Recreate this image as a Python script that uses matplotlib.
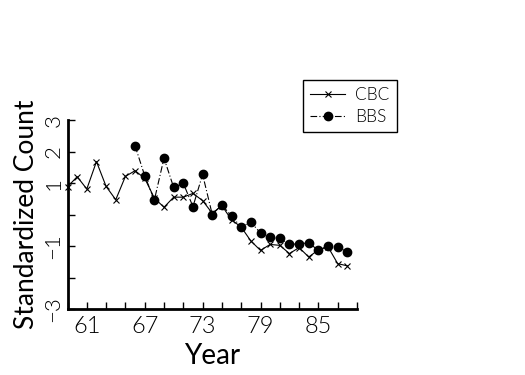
import matplotlib
matplotlib.use("Agg")
import matplotlib.pyplot as plt
from matplotlib import font_manager
from matplotlib.legend_handler import HandlerLine2D

# values
cbc_years = list(range(59, 89))
cbc_values = [0.88, 1.20, 0.81, 1.68, 0.89, 0.47, 1.21, 1.39, 1.15, 0.52,
              0.23, 0.55, 0.55, 0.67, 0.44, 0.04, 0.28, -0.17, -0.40, -0.84,
              -1.14, -0.95, -0.98, -1.24, -1.05, -1.35, -1.12, -1.03, -1.56, -1.63]

bbs_years = list(range(66, 89))
bbs_values = [2.18, 1.23, 0.46, 1.79, 0.86, 0.99, 0.25, 1.27, 0.00, 0.31,
              -0.06, -0.40, -0.24, -0.59, -0.72, -0.76, -0.95, -0.93, -0.90,
              -1.14, -0.99, -1.03, -1.19]

x_ticks = list(range(59, 90, 2))
x_ticklabels = ["61", "67", "73", "79", "85"]
y_ticks = [-3, -2, -1, 0, 1, 2, 3]
y_ticklabels = ["\u22123", "", "\u22121", "", "1", "2", "3"]


class MarkerLeftHandler(HandlerLine2D):
    # put the single legend marker at the left end of the line
    def get_xdata(self, legend, xdescent, ydescent, width, height, fontsize):
        xdata, _ = super().get_xdata(legend, xdescent, ydescent, width, height, fontsize)
        return xdata, xdata[:1]


# the original uses a thin stroke font, so look for a light face
family, weight = "DejaVu Sans", "normal"
for name in ["Lato", "Roboto", "Open Sans", "Inter", "Noto Sans", "DejaVu Sans"]:
    found = [f for f in font_manager.fontManager.ttflist
             if f.name == name and isinstance(f.weight, int) and f.weight <= 300
             and f.style == "normal"]
    if found:
        family, weight = name, max(f.weight for f in found)
        break

plt.rcParams["font.family"] = [family, "DejaVu Sans"]
plt.rcParams["font.weight"] = weight

fig = plt.figure(figsize=(5.25, 3.75), dpi=100)
ax = fig.add_axes([0.1286, 0.176, 0.5514, 0.504])

cbc_line, = ax.plot(cbc_years, cbc_values, color="black", linewidth=0.8,
                    marker="x", markersize=4, markeredgewidth=0.8,
                    label="CBC", clip_on=False)
bbs_line, = ax.plot(bbs_years, bbs_values, color="black", linewidth=0.8,
                    linestyle=(0, (6, 2, 1, 2)),
                    marker="o", markersize=6, label="BBS", clip_on=False)

ax.set_xlim(59, 89)
ax.set_ylim(-3, 3)

ax.set_xticks(x_ticks)
ax.set_xticklabels([str(y) if str(y) in x_ticklabels else "" for y in x_ticks],
                   fontsize=17)
ax.set_yticks(y_ticks)
ax.set_yticklabels(y_ticklabels, fontsize=16, rotation=90, va="center")

ax.tick_params(direction="in", length=5, width=1, color="black", pad=5)
ax.tick_params(axis="y", pad=3)

for side in ["top", "right"]:
    ax.spines[side].set_visible(False)
for side in ["left", "bottom"]:
    ax.spines[side].set_linewidth(2)

ax.set_xlabel("Year", fontsize=20, labelpad=4)
ax.set_ylabel("Standardized Count", fontsize=19, labelpad=3)

leg = fig.legend(handles=[cbc_line, bbs_line], loc="upper left",
                 bbox_to_anchor=(0.577, 0.787), borderaxespad=0, fontsize=12.5,
                 numpoints=1, handlelength=2.0, handletextpad=0.6,
                 fancybox=False, framealpha=1, edgecolor="black",
                 borderpad=0.42, labelspacing=0.32,
                 handler_map={cbc_line: MarkerLeftHandler(),
                              bbs_line: MarkerLeftHandler()})
leg.get_frame().set_linewidth(1)

fig.savefig("out.png", dpi=100)
plt.close(fig)
